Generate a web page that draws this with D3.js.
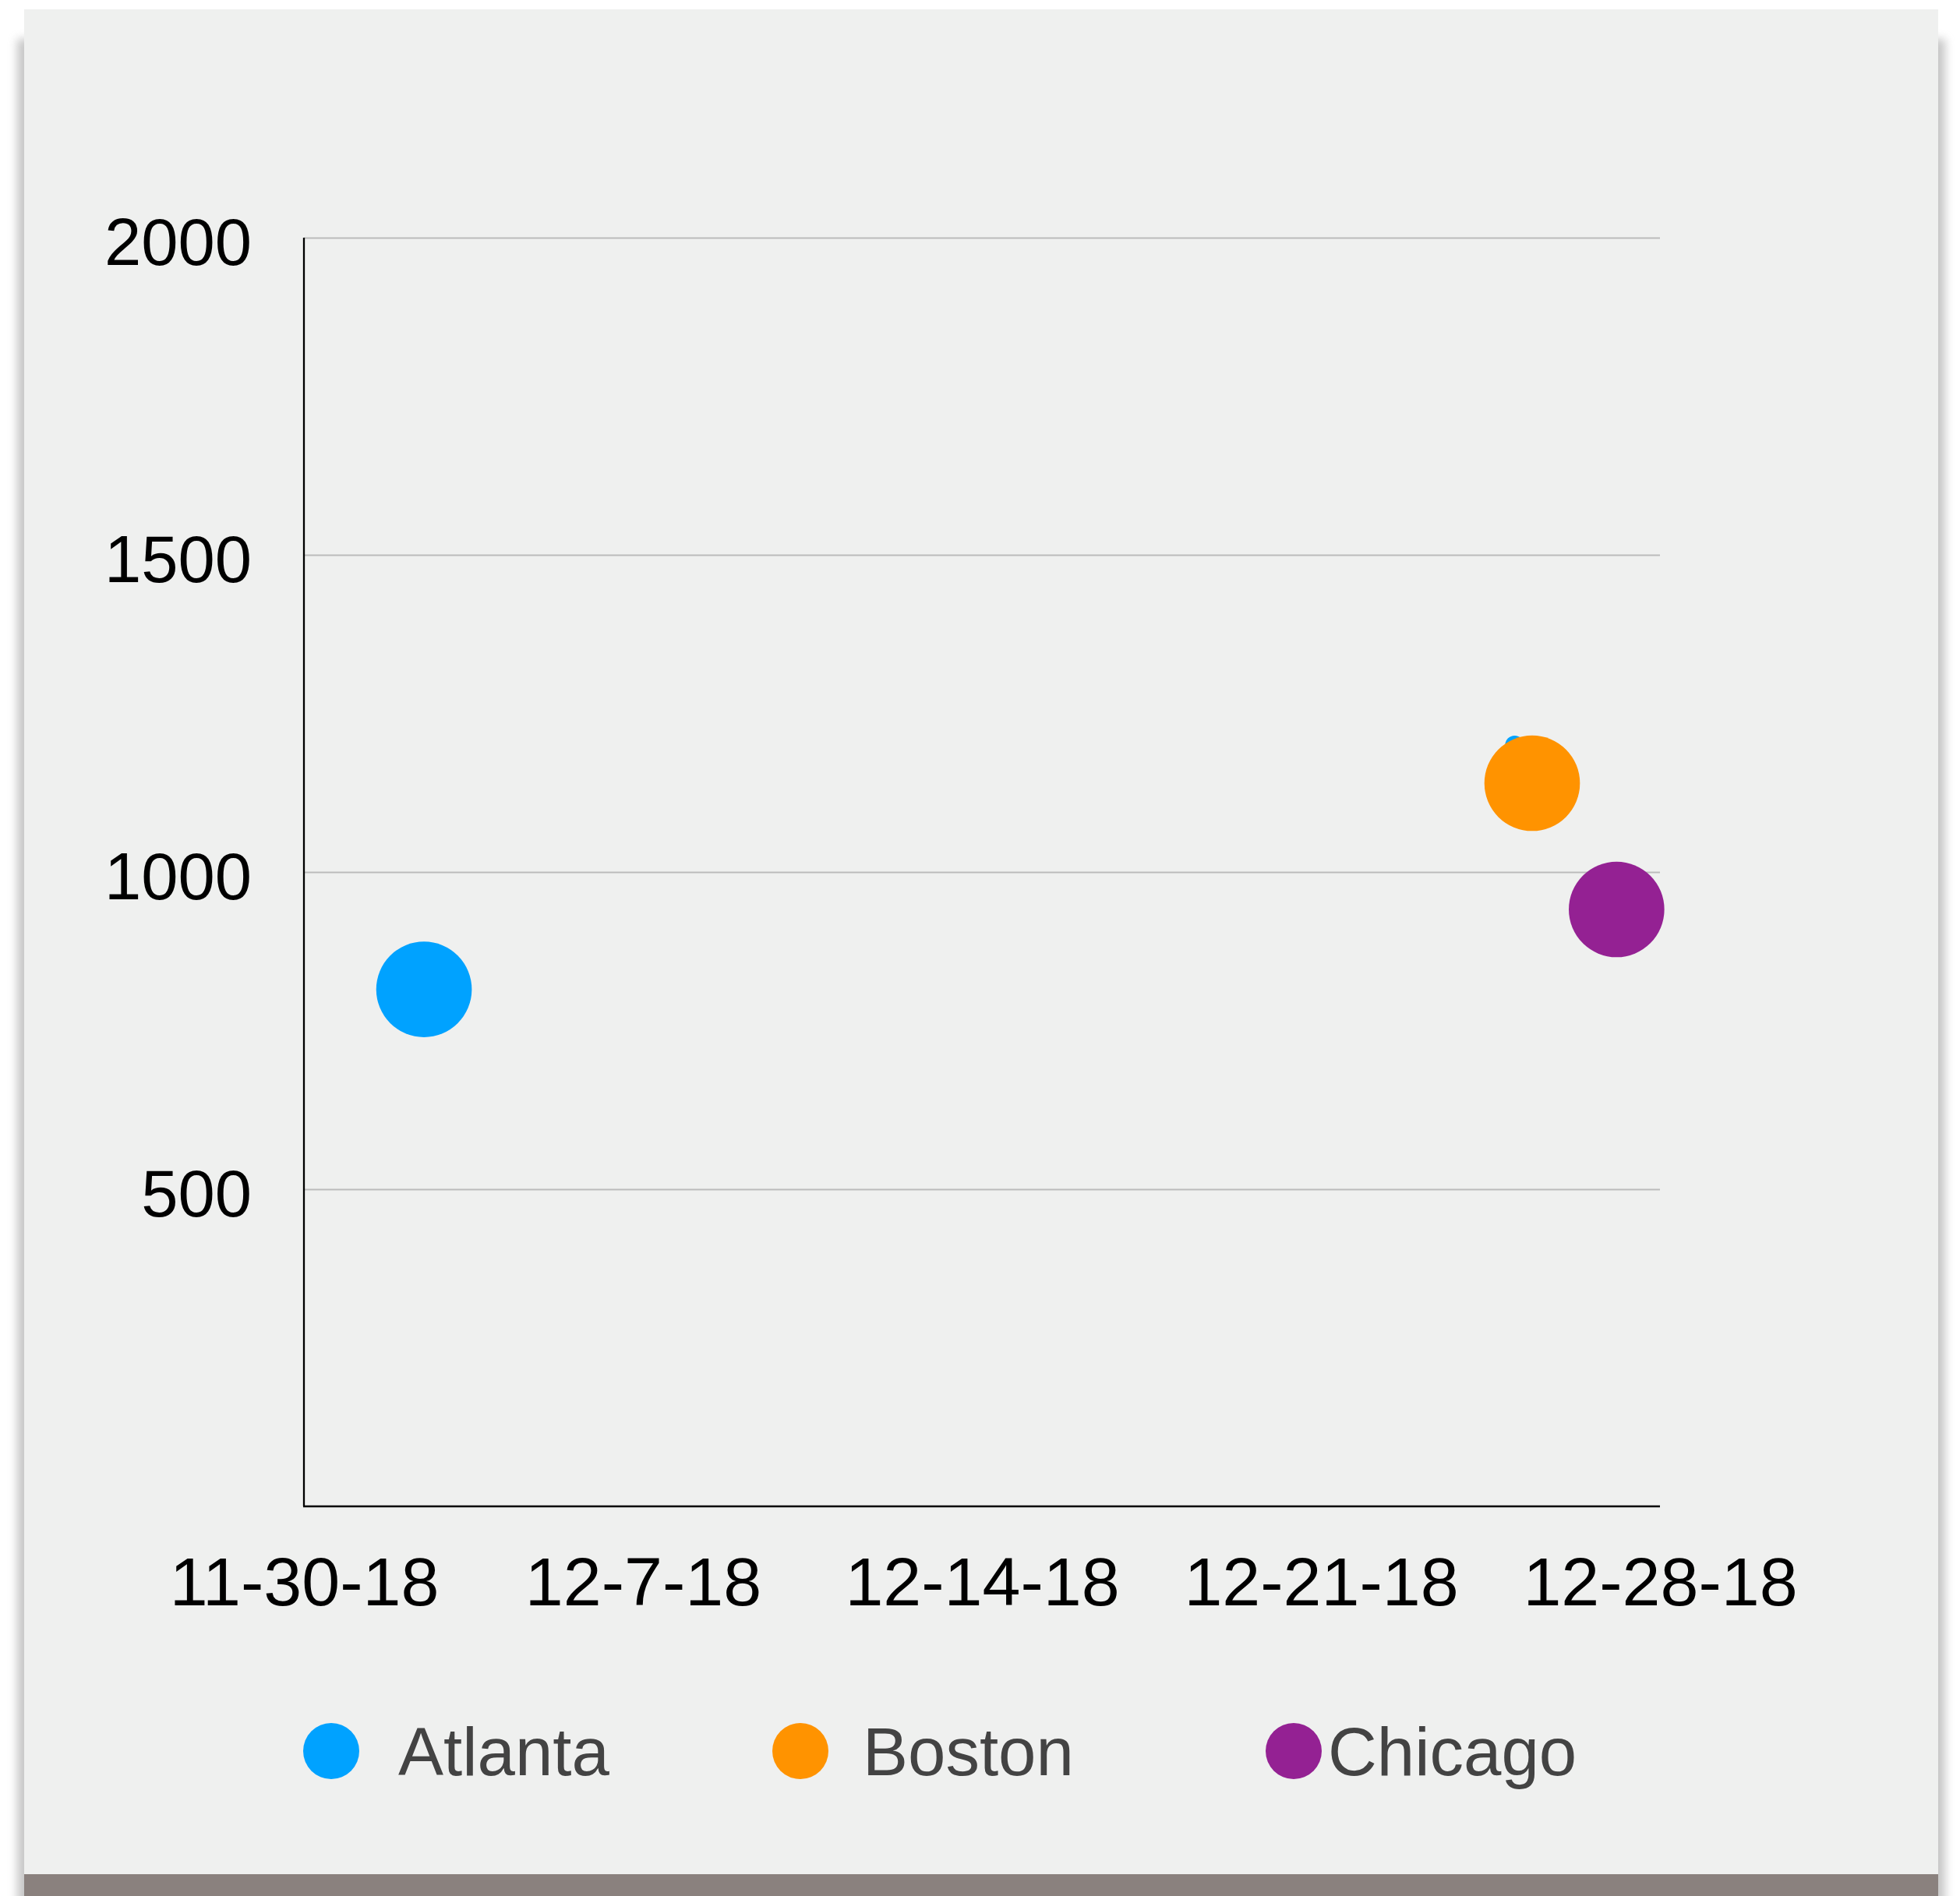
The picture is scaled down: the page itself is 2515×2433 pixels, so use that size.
<!DOCTYPE html>
<html>
<head>
<meta charset="utf-8">
<script src="https://cdn.jsdelivr.net/npm/d3@7"></script>
<style>
  html, body { margin: 0; padding: 0; background: #ffffff; }
  svg { display: block; }
  text { font-family: "Liberation Sans", Arial, Helvetica, sans-serif; }
</style>
</head>
<body>
<svg id="chart" width="2515" height="2433"></svg>
<script>
// ---------------- data ----------------
const seriesNames = ["Atlanta", "Boston", "Chicago"];
const seriesColors = ["#00a2ff", "#ff9300", "#942193"];

const atlantaDates  = ["2018-12-02 11:30", "2018-12-25 00:00"];
const atlantaValues = [815, 1200];
const atlantaSizes  = [100, 4];

const bostonDates  = ["2018-12-25 08:40"];
const bostonValues = [1140];
const bostonSizes  = [100];

const chicagoDates  = ["2018-12-27 02:30"];
const chicagoValues = [941];
const chicagoSizes  = [100];

const xTickDates  = ["2018-11-30", "2018-12-07", "2018-12-14", "2018-12-21", "2018-12-28"];
const yTickValues = [500, 1000, 1500, 2000];

// ---------------- setup ----------------
const parseDT = d3.timeParse("%Y-%m-%d %H:%M");
const parseD  = d3.timeParse("%Y-%m-%d");
const fmt = d3.timeFormat("%-m-%-d-%y");

const svg = d3.select("#chart");

const defs = svg.append("defs");
const blur = defs.append("filter").attr("id", "shadowBlur")
  .attr("x", "-5%").attr("y", "-5%").attr("width", "110%").attr("height", "110%");
blur.append("feGaussianBlur").attr("stdDeviation", 6);

// frame / shadow
svg.append("rect").attr("x", 22).attr("y", 50).attr("width", 2474).attr("height", 2400)
  .attr("fill", "#9a9a9a").attr("opacity", 0.55).attr("filter", "url(#shadowBlur)");
svg.append("rect").attr("x", 31).attr("y", 2400).attr("width", 2456).attr("height", 40)
  .attr("fill", "#8a817e");
svg.append("rect").attr("x", 31).attr("y", 12).attr("width", 2456).attr("height", 2393)
  .attr("fill", "#eff0ef");

const plot = { left: 390, right: 2130, top: 305, bottom: 1933 };

const x = d3.scaleTime()
  .domain([parseD(xTickDates[0]), parseD(xTickDates[xTickDates.length - 1])])
  .range([plot.left, plot.right]);
const y = d3.scaleLinear().domain([0, 2000]).range([plot.bottom, plot.top]);
const r = d3.scaleSqrt().domain([0, 100]).range([0, 61.3]);

// y grid + labels
const yAxis = svg.append("g")
  .attr("transform", `translate(${plot.left},0)`)
  .call(d3.axisLeft(y).tickValues(yTickValues).tickFormat(d3.format("d"))
    .tickSize(-(plot.right - plot.left)).tickPadding(67));
yAxis.select(".domain").remove();
yAxis.selectAll(".tick line").attr("stroke", "#bbbbbb").attr("stroke-width", 2);
yAxis.selectAll(".tick text")
  .attr("font-size", 85).attr("fill", "#000")
  .attr("font-family", "'Liberation Sans', Arial, Helvetica, sans-serif")
  .attr("dy", "0.41em");

// x axis labels
const xAxis = svg.append("g")
  .attr("transform", `translate(0,${plot.bottom})`)
  .call(d3.axisBottom(x).tickValues(xTickDates.map(parseD)).tickFormat(fmt).tickSize(0).tickPadding(127));
xAxis.select(".domain").remove();
xAxis.selectAll(".tick text")
  .attr("font-size", 88).attr("fill", "#000")
  .attr("font-family", "'Liberation Sans', Arial, Helvetica, sans-serif")
  .attr("dy", 0);

// axis lines
svg.append("line").attr("x1", plot.left).attr("x2", plot.left)
  .attr("y1", plot.top).attr("y2", plot.bottom).attr("stroke", "#000").attr("stroke-width", 2.3);
svg.append("line").attr("x1", plot.left - 1).attr("x2", plot.right)
  .attr("y1", plot.bottom).attr("y2", plot.bottom).attr("stroke", "#000").attr("stroke-width", 2.3);

// bubbles
const series = [
  { name: seriesNames[0], color: seriesColors[0], dates: atlantaDates, values: atlantaValues, sizes: atlantaSizes },
  { name: seriesNames[1], color: seriesColors[1], dates: bostonDates,  values: bostonValues,  sizes: bostonSizes },
  { name: seriesNames[2], color: seriesColors[2], dates: chicagoDates, values: chicagoValues, sizes: chicagoSizes }
];
series.forEach(s => {
  const pts = s.dates.map((d, i) => ({ date: parseDT(d), value: s.values[i], size: s.sizes[i] }));
  svg.append("g").selectAll("circle").data(pts).join("circle")
    .attr("cx", d => x(d.date)).attr("cy", d => y(d.value)).attr("r", d => r(d.size))
    .attr("fill", s.color);
});

// legend
const legendMarkerX = [425, 1027, 1660];
const legendTextX = [511, 1107, 1704];
const legendY = 2247;
const lg = svg.append("g");
series.forEach((s, i) => {
  lg.append("circle").attr("cx", legendMarkerX[i]).attr("cy", legendY).attr("r", 36).attr("fill", s.color);
  lg.append("text").attr("x", legendTextX[i]).attr("y", legendY + 31)
    .attr("font-size", 87).attr("fill", "#434343").text(s.name);
});
</script>
</body>
</html>
